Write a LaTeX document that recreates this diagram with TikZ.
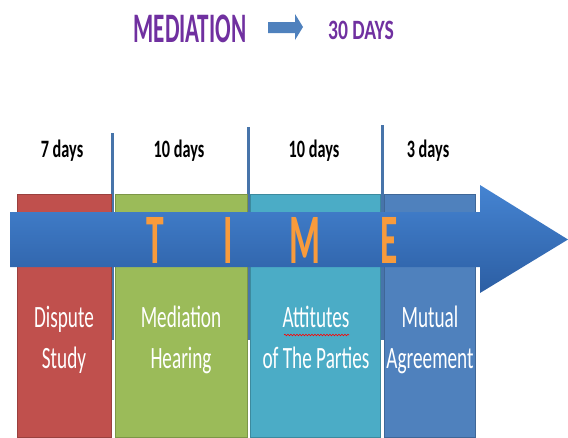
\documentclass[tikz,border=0pt]{standalone}
\usepackage{fontspec}
\setmainfont{Carlito}
\usepackage{tikz}
\usetikzlibrary{positioning}
\usetikzlibrary{decorations.pathmorphing}
\definecolor{stepred}{HTML}{C0504D}
\definecolor{stepgreen}{HTML}{9BBB59}
\definecolor{stepteal}{HTML}{4BACC6}
\definecolor{stepblue}{HTML}{4F81BD}
\definecolor{arrowtop}{HTML}{4584D2}
\definecolor{arrowbot}{HTML}{2C5EA3}
\definecolor{titlepurple}{HTML}{7030A0}
\definecolor{timeorange}{HTML}{F89B3C}

\begin{document}
\begin{tikzpicture}[x=1pt,y=-1pt]
\useasboundingbox (0,0) rectangle (568,437);
\tikzstyle{stepbox}=[draw, line width=.5pt, minimum height=243pt, inner sep=0pt] %%
\tikzstyle{days}=[font=\bfseries\fontsize{25}{28}\selectfont, anchor=base, xscale=.65, transform shape] %%
\tikzstyle{steptext}=[text=white, align=center, font=\fontsize{31}{41}\selectfont, xscale=.62, transform shape] %%
\tikzstyle{letter}=[text=timeorange, font=\bfseries\fontsize{71}{71}\selectfont, anchor=base, xscale=.5, transform shape] %%
%% title
\node[text=titlepurple, font=\bfseries\fontsize{42}{42}\selectfont, anchor=base, xscale=.55, transform shape] (med) at (190,42) {MEDIATION}; %%
\node[text=titlepurple, font=\bfseries\fontsize{28}{28}\selectfont, anchor=base, xscale=.7, transform shape] (thirty) at (361,39) {30 DAYS}; %%
\fill[stepblue] (268,22) -- (295,22) -- (295,14) -- (303,27) -- (295,40) -- (295,33) -- (268,33) -- cycle;
%% separators
\coordinate (l1a) at (112.5,133); \coordinate (l1b) at (112.5,340); %%
\coordinate (l2a) at (248.5,127); \coordinate (l2b) at (248.5,340); %%
\coordinate (l3a) at (382,125);   \coordinate (l3b) at (382,340); %%
\draw[stepblue!90!black, line width=3pt] (l1a)--(l1b) (l2a)--(l2b) (l3a)--(l3b); %%
%% boxes
\node[stepbox, fill=stepred, draw=stepred!80!black, minimum width=94pt] (b1) at (64,315.5) {}; %%
\node[stepbox, fill=stepgreen, draw=stepgreen!80!black, minimum width=132pt] (b2) at (181,315.5) {}; %%
\node[stepbox, fill=stepteal, draw=stepteal!80!black, minimum width=130pt] (b3) at (315,315.5) {}; %%
\node[stepbox, fill=stepblue, draw=stepblue!80!black, minimum width=91pt] (b4) at (429.5,315.5) {}; %%
%% time arrow
\shade[top color=arrowtop, bottom color=arrowbot] (10,212) -- (480,212) -- (480,185) -- (568,239.5) -- (480,293) -- (480,267) -- (10,267) -- cycle; %%
\node[letter] (T) at (155,263) {T}; %%
\node[letter] (I) at (228,263) {I}; %%
\node[letter] (M) at (305,263) {M}; %%
\node[letter] (E) at (389,263) {E}; %%
%% day counts
\node[days] (d1) at (62,157) {7 days}; %%
\node[days] (d2) at (179,157) {10 days}; %%
\node[days] (d3) at (314,157) {10 days}; %%
\node[days] (d4) at (428,157) {3 days}; %%
%% step names
\node[steptext] (t1) at (64,340) {\strut Dispute\\\strut Study}; %%
\node[steptext] (t2) at (181,340) {\strut Mediation\\\strut Hearing}; %%
\node[steptext] (t3) at (316,340) {\strut Attitutes\\\strut of The Parties}; %%
\node[steptext] (t4) at (430,340) {\strut Mutual\\\strut Agreement}; %%
\draw[red, line width=.6pt, decorate, decoration={snake, amplitude=.8pt, segment length=3pt}] (284,335) -- (349,335); %%
\end{tikzpicture}
\end{document}
